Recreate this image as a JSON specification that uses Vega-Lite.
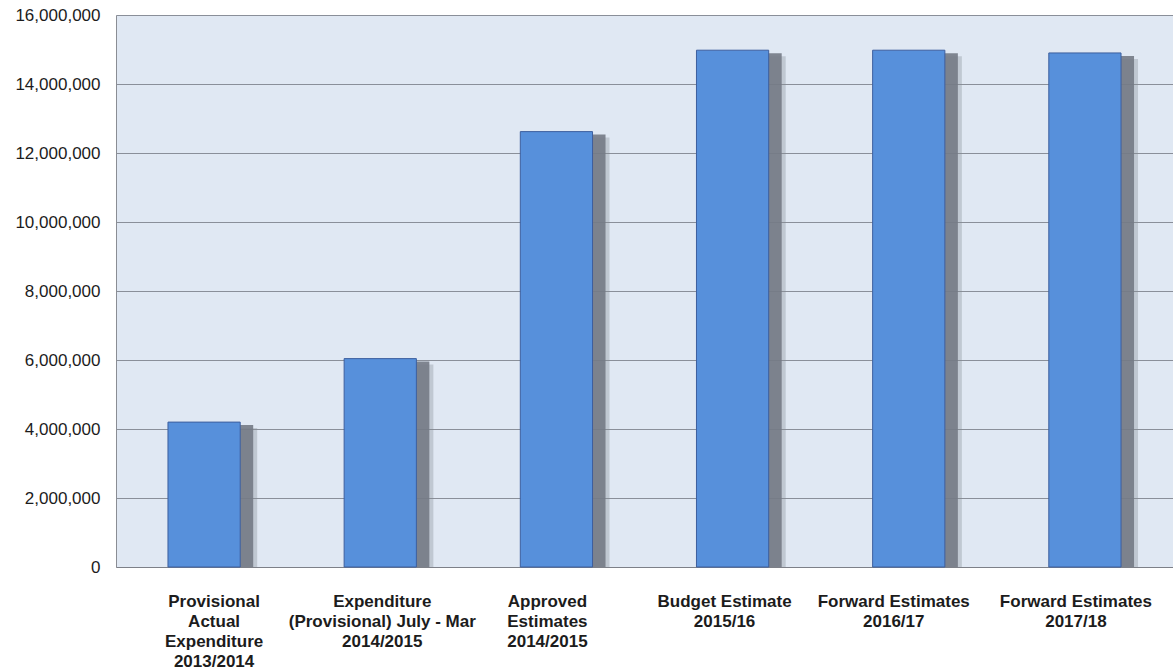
{
  "$schema": "https://vega.github.io/schema/vega-lite/v6.json",
  "autosize": "none",
  "width": 1057,
  "height": 552,
  "padding": {"left": 116, "top": 15, "right": 0, "bottom": 104},
  "background": "#ffffff",
  "config": {
    "font": "Liberation Sans",
    "view": {"fill": "#e0e8f3", "stroke": null},
    "axis": {"labelFont": "Liberation Sans", "labelColor": "#1c1c1c"}
  },
  "data": {
    "values": [
      {"category": "Provisional\nActual\nExpenditure\n2013/2014", "amount": 4200000},
      {"category": "Expenditure\n(Provisional) July - Mar\n2014/2015", "amount": 6040000},
      {"category": "Approved\nEstimates\n2014/2015", "amount": 12620000},
      {"category": "Budget  Estimate\n2015/16", "amount": 14980000},
      {"category": "Forward Estimates\n2016/17", "amount": 14980000},
      {"category": "Forward Estimates\n2017/18", "amount": 14900000}
    ]
  },
  "encoding": {
    "x": {
      "field": "category",
      "type": "nominal",
      "sort": null,
      "title": null,
      "scale": {"paddingInner": 0.59, "paddingOuter": 0.295},
      "axis": {
        "labelAngle": 0,
        "labelExpr": "split(datum.label, '\\n')",
        "labelFontSize": 17,
        "labelFontWeight": "bold",
        "labelLineHeight": 20,
        "labelPadding": 26,
        "labelLimit": 300,
        "ticks": false,
        "tickSize": 0,
        "domain": true,
        "domainColor": "#7d8088",
        "domainWidth": 1,
        "labelOffset": {
          "condition": [
            {"test": "indexof(datum.value, '2013/2014') >= 0", "value": 10},
            {"test": "indexof(datum.value, 'July') >= 0", "value": 2},
            {"test": "indexof(datum.value, 'Approved') >= 0", "value": -9},
            {"test": "indexof(datum.value, 'Budget') >= 0", "value": -8},
            {"test": "indexof(datum.value, '2016/17') >= 0", "value": -15}
          ],
          "value": -9
        }
      }
    },
    "y": {
      "field": "amount",
      "type": "quantitative",
      "title": null,
      "scale": {"domain": [0, 16000000], "nice": false},
      "axis": {
        "values": [0, 2000000, 4000000, 6000000, 8000000, 10000000, 12000000, 14000000, 16000000],
        "format": ",d",
        "labelFontSize": 17,
        "labelPadding": 16,
        "ticks": false,
        "tickSize": 0,
        "domain": true,
        "domainColor": "#8a8d94",
        "grid": true,
        "gridColor": "#8a8f99",
        "gridWidth": 1,
        "gridOpacity": 1
      }
    }
  },
  "layer": [
    {
      "mark": {"type": "bar", "color": "#858b95", "opacity": 0.35, "xOffset": 17, "yOffset": 6, "clip": true}
    },
    {
      "mark": {"type": "bar", "color": "#747a85", "opacity": 0.9, "xOffset": 13, "yOffset": 3, "clip": true}
    },
    {
      "mark": {"type": "bar", "color": "#5790db", "stroke": "#3d5f9e", "strokeWidth": 1}
    }
  ]
}
